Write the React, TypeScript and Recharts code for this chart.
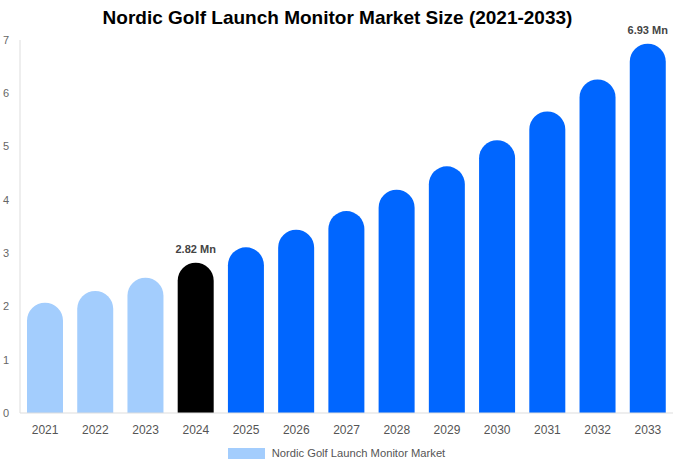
import React from "react";
import { BarChart, Bar, XAxis, YAxis, Cell, LabelList, Legend } from "recharts";

const years = ["2021","2022","2023","2024","2025","2026","2027","2028","2029","2030","2031","2032","2033"];
const values = [2.07, 2.29, 2.54, 2.82, 3.11, 3.44, 3.79, 4.19, 4.63, 5.12, 5.66, 6.26, 6.93];
const barColors = ["#a3cdfd","#a3cdfd","#a3cdfd","#000000","#0066ff","#0066ff","#0066ff","#0066ff","#0066ff","#0066ff","#0066ff","#0066ff","#0066ff"];
const labeledYears = ["2024", "2033"];
const yTicks = [0, 1, 2, 3, 4, 5, 6, 7];
const seriesName = "Nordic Golf Launch Monitor Market";
const title = "Nordic Golf Launch Monitor Market Size (2021-2033)";

const data = years.map((y, i) => ({ year: y, value: values[i] }));

const FONT = "'Liberation Sans', Arial, sans-serif";

const ValueLabel = (props: any) => {
  const { x, y, width, index } = props;
  if (!labeledYears.includes(years[index])) return null;
  return (
    <text x={x + width / 2} y={y - 10} textAnchor="middle" fontFamily={FONT} fontSize={11} fontWeight="bold" fill="#444">
      {values[index].toFixed(2)} Mn
    </text>
  );
};

const LegendContent = () => (
  <div style={{ height: 20, display: "flex", justifyContent: "center", alignItems: "center", fontFamily: FONT, fontSize: 11.2, color: "#555" }}>
    <span style={{ display: "inline-block", width: 37, height: 11, background: "#a3cdfd", marginRight: 7 }} />
    <span>{seriesName}</span>
  </div>
);

export default function App() {
  return (
    <div style={{ position: "absolute", left: 0, top: 0, width: 675, height: 469, background: "#fff" }}>
      <div style={{ position: "absolute", left: 0, top: 7, width: 675, textAlign: "center", fontFamily: FONT, fontSize: 19, fontWeight: "bold", color: "#000", zIndex: 2 }}>
        {title}
      </div>
      <BarChart width={675} height={469} data={data} margin={{ top: 40, right: 2, left: 0, bottom: 6 }} barSize={36}>
        <XAxis dataKey="year" axisLine={{ stroke: "#dddddd" }} tickLine={false} tickMargin={6} height={30}
          tick={{ fontFamily: FONT, fontSize: 12, fill: "#555" }} />
        <YAxis width={20} domain={[0, 7]} ticks={yTicks} axisLine={{ stroke: "#dddddd" }} tickLine={false} tickMargin={5}
          tick={{ fontFamily: FONT, fontSize: 11, fill: "#666" }} />
        <Legend verticalAlign="bottom" content={<LegendContent />} />
        <Bar dataKey="value" name={seriesName} radius={[18, 18, 0, 0]} isAnimationActive={false}>
          {data.map((d, i) => (
            <Cell key={d.year} fill={barColors[i]} />
          ))}
          <LabelList dataKey="value" content={<ValueLabel />} />
        </Bar>
      </BarChart>
    </div>
  );
}
